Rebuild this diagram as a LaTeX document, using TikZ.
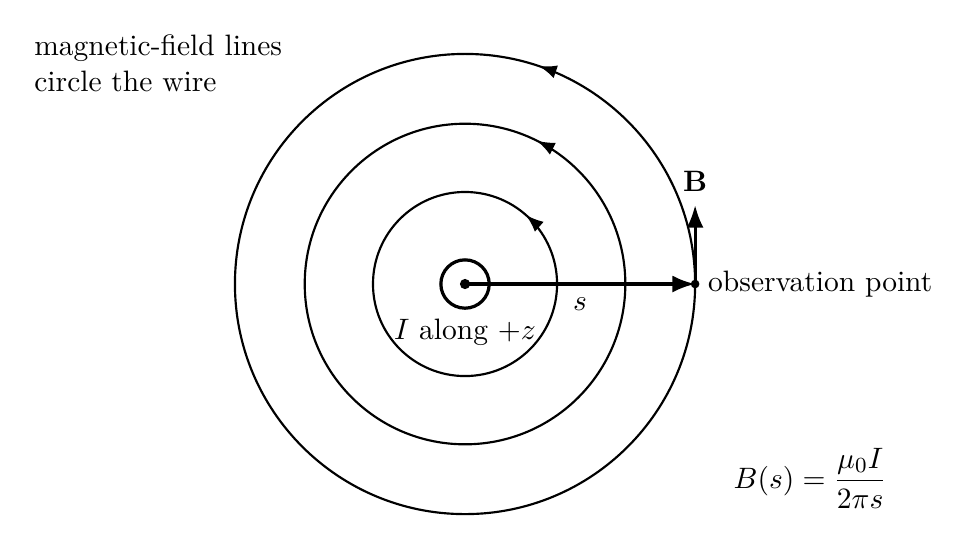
\documentclass[tikz,border=0pt,11pt]{standalone}
\usepackage{amsmath}
\usepackage{amssymb}
\usepackage{tikz}
\usetikzlibrary{arrows.meta, positioning, calc, decorations.markings}

\begin{document}
\begin{tikzpicture}[
  fieldline/.style={thick, postaction={decorate},
    decoration={markings, mark=at position #1 with {\arrow{Latex}}}}
]
\useasboundingbox (-6.063,-3.403) rectangle (6.610,3.703);
\draw[fieldline=0.135] (0,0) circle (1.2);
\draw[fieldline=0.176] (0,0) circle (2.09);
\draw[fieldline=0.198] (0,0) circle (3);
\node[draw, circle, very thick, minimum size=0.63cm, inner sep=0pt] (wire) at (0,0) {};
\fill (wire.center) circle (1.9pt);
\coordinate (obs) at (3,0);
\fill (obs) circle (1.6pt);
\coordinate (Btip) at (3,1.03);
\draw[very thick, -{Latex}] (wire.center) -- node[below, yshift=-1pt] {$s$} (obs);
\draw[very thick, -{Latex}] (obs) -- (Btip);
\node[above=1pt of Btip] (blabel) {$\mathbf{B}$};
\node[right=1pt of obs] (obslabel) {observation point};
\node (current) at (0,-0.63) {$I$ along $+z$};
\node[anchor=north west, align=left] (caption) at (-5.75,3.39) {magnetic-field lines\\circle the wire};
\node (formula) at (4.5,-2.53) {$B(s)=\dfrac{\mu_0 I}{2\pi s}$};
\end{tikzpicture}
\end{document}
